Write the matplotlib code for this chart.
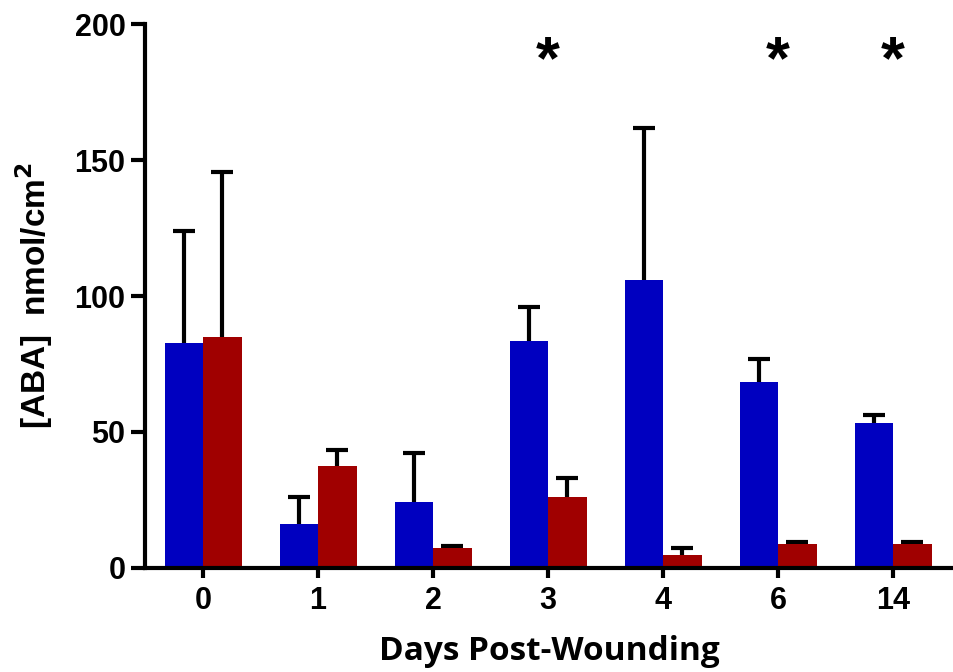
import numpy as np
import matplotlib.pyplot as plt

# valeurs
jours = ['0', '1', '2', '3', '4', '6', '14']
bleu = [82.7, 16.2, 24.3, 83.5, 106, 68.5, 53.3]
bleu_err = [41.3, 9.8, 18.0, 12.5, 55.8, 8.3, 2.9]
rouge = [85.0, 37.5, 7.3, 26.0, 4.8, 8.8, 8.8]
rouge_err = [60.6, 5.9, 0.7, 7.0, 2.6, 0.7, 0.7]
etoiles = ['3', '6', '14']   # groupes significatifs
y_etoile = 186

c_bleu = '#0000C0'
c_rouge = '#A00000'

plt.rcParams['font.family'] = ['Liberation Sans', 'DejaVu Sans']
fig = plt.figure(figsize=(9.54, 6.72), dpi=100)
ax = fig.add_axes([0.152, 0.155, 0.848, 0.809])

x = np.arange(len(jours))
w = 0.335
# barres d'erreur dessinees sous les barres : seule la moitie haute reste visible
ax.errorbar(x - w/2, bleu, yerr=bleu_err, fmt='none',
            ecolor='black', elinewidth=3, capsize=8, capthick=3, zorder=1)
ax.errorbar(x + w/2, rouge, yerr=rouge_err, fmt='none',
            ecolor='black', elinewidth=3, capsize=8, capthick=3, zorder=1)
ax.bar(x - w/2, bleu, w, color=c_bleu, zorder=2)
ax.bar(x + w/2, rouge, w, color=c_rouge, zorder=2)

for j in etoiles:
    ax.text(jours.index(j), y_etoile, '*', ha='center', va='center',
            fontsize=44, fontweight='bold')

ax.set_xlim(-0.505, 6.53)
ax.set_ylim(0, 200)
ax.set_yticks([0, 50, 100, 150, 200])
ax.set_xticks(x)
ax.set_xticklabels(jours)
for s in ['top', 'right']:
    ax.spines[s].set_visible(False)
for s in ['left', 'bottom']:
    ax.spines[s].set_linewidth(3)
ax.spines['left'].set_bounds(0, 200)
ax.tick_params(width=3, labelsize=22)
ax.tick_params(axis='y', length=10, pad=4)
ax.tick_params(axis='x', length=7, pad=6)
for lab in ax.get_xticklabels() + ax.get_yticklabels():
    lab.set_fontweight('bold')

ax.set_ylabel('[ABA]  nmol/cm$^\\mathbf{2}$', fontsize=24, fontweight='bold', labelpad=14)
ax.set_xlabel('Days Post-Wounding', fontsize=24, fontweight='bold',
              family=['Open Sans', 'DejaVu Sans'], labelpad=14)

plt.savefig('out.png', dpi=100)
